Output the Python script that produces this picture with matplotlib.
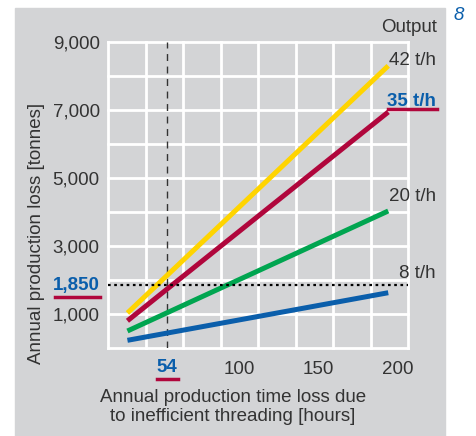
import numpy as np
import matplotlib
matplotlib.use("Agg")
import matplotlib.pyplot as plt
from matplotlib.patches import Rectangle

plt.rcParams["font.family"] = ["Liberation Sans", "DejaVu Sans"]

# -----------------------------
# Datos
# -----------------------------
hours = [29, 194]
loss_42 = [1030, 8300]
loss_35 = [800, 6940]
loss_20 = [500, 4030]
loss_8 = [226, 1626]

outputs = ["42 t/h", "35 t/h", "20 t/h", "8 t/h"]
label_y = [8450, 7250, 4450, 2200]
y_ticks = [1000, 3000, 5000, 7000, 9000]
x_ticks = [100, 150, 200]
mark_hours = 54
mark_loss = 1850

GRAY = "#d3d4d6"
TXT = "#333333"
BLUE = "#0a5eab"
RED = "#b0063c"
colors = ["#ffd400", RED, "#00a550", "#0a5eab"]
FS = 13.5

W, H = 476, 436
fig = plt.figure(figsize=(W / 100, H / 100), dpi=100)
fig.patches.append(Rectangle((15 / W, 0), 430 / W, (H - 8) / H,
                             transform=fig.transFigure, color=GRAY, zorder=-10))

ax = fig.add_axes([108 / W, (H - 348) / H, 300 / W, 306 / H])
ax.set_zorder(5)
ax.set_facecolor(GRAY)
xlim = (16.7, 206.5)
ax.set_xlim(*xlim)
ax.set_ylim(0, 9000)
for s in ax.spines.values():
    s.set_visible(False)

# rejilla decorativa (blanca)
for gx in np.linspace(xlim[0], xlim[1], 9):
    ax.axvline(gx, color="white", lw=2, zorder=1, clip_on=False)
for gy in np.arange(0, 9001, 1000):
    ax.axhline(gy, color="white", lw=2, zorder=1, clip_on=False)

ax.set_yticks(y_ticks)
ax.set_yticklabels([f"{v:,}" for v in y_ticks])
ax.set_xticks(x_ticks)
ax.tick_params(which="major", length=0, labelsize=FS, colors=TXT)
ax.tick_params(axis="y", pad=6)
ax.tick_params(axis="x", pad=9)

for ys, c in zip([loss_42, loss_35, loss_20, loss_8], colors):
    ax.plot(hours, ys, color=c, lw=3.6, solid_capstyle="butt", zorder=3)

ax.axvline(mark_hours, color="#333333", lw=1, ls=(0, (5, 4)), zorder=2)
ax.axhline(mark_loss, color="black", lw=1.6, ls=(0, (1.2, 1.6)), zorder=4)

# marcas especiales
ax.text(-0.027, mark_loss, f"{mark_loss:,}", transform=ax.get_yaxis_transform(),
        ha="right", va="center", fontsize=FS, fontweight="bold", color=BLUE)
ax.plot([-0.177, -0.027], [mark_loss - 350] * 2, transform=ax.get_yaxis_transform(),
        color=RED, lw=2.5, clip_on=False)
ax.text(mark_hours, -0.065, f"{mark_hours}", transform=ax.get_xaxis_transform(),
        ha="center", va="center", fontsize=FS, fontweight="bold", color=BLUE)
ax.plot([mark_hours - 6.5, mark_hours + 6.8], [-0.102] * 2,
        transform=ax.get_xaxis_transform(), color=RED, lw=2.5, clip_on=False)

# etiquetas de salida
for lab, yy in zip(outputs, label_y):
    bold = lab == "35 t/h"
    ax.text(1.093, yy, lab, transform=ax.get_yaxis_transform(), ha="right", va="center",
            fontsize=FS, color=BLUE if bold else TXT,
            fontweight="bold" if bold else "normal")
ax.plot([0.933, 1.097], [7030] * 2, transform=ax.get_yaxis_transform(),
        color=RED, lw=2.5, clip_on=False)
fig.text(437 / W, 1 - 27 / H, "Output", ha="right", va="center", fontsize=FS, color=TXT)
fig.text(459 / W, 1 - 15 / H, "8", ha="center", va="center", fontsize=FS,
         style="italic", color=BLUE)

fig.text(233 / W, 1 - 407 / H, "Annual production time loss due\nto inefficient threading [hours]",
         ha="center", va="center", fontsize=FS, color=TXT, linespacing=1.15)
fig.text(37 / W, 1 - 233 / H, "Annual production loss [tonnes]", rotation=90,
         ha="center", va="center", fontsize=FS, color=TXT)

fig.savefig("out.png", dpi=100)
